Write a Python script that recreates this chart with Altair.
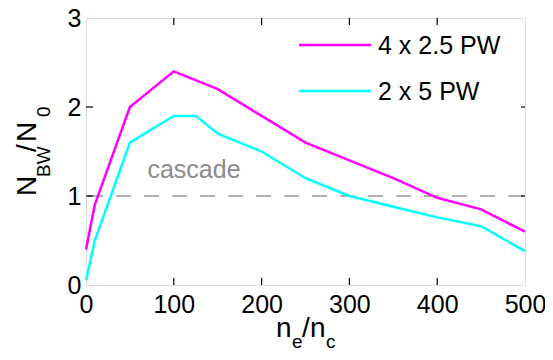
import altair as alt
import pandas as pd

# ---- data ----
series_names = ["4 x 2.5 PW", "2 x 5 PW"]
series_colors = ["#ff00ff", "#00ffff"]

ne_a = [0, 10, 50, 100, 150, 200, 250, 300, 350, 400, 450, 500]
nbw_a = [0.4, 0.9, 2.0, 2.4, 2.2, 1.9, 1.6, 1.4, 1.2, 0.98, 0.85, 0.6]

ne_b = [0, 10, 50, 100, 125, 150, 200, 250, 300, 350, 400, 450, 500]
nbw_b = [0.05, 0.5, 1.6, 1.9, 1.9, 1.7, 1.5, 1.2, 1.0, 0.88, 0.76, 0.66, 0.38]

x_ticks = [0, 100, 200, 300, 400, 500]
y_ticks = [0, 1, 2, 3]
cascade_level = 1.0
cascade_label = "cascade"
cascade_pos = (123, 1.2)

W, H = 439, 267
FONT = "Liberation Sans"

lines_df = pd.DataFrame(
    [{"ne": x, "nbw": y, "series": series_names[0]} for x, y in zip(ne_a, nbw_a)]
    + [{"ne": x, "nbw": y, "series": series_names[1]} for x, y in zip(ne_b, nbw_b)]
)
xt_df = pd.DataFrame({"x": x_ticks[1:-1]})
yt_df = pd.DataFrame({"y": y_ticks[1:-1]})

xs = alt.Scale(domain=[0, 500], nice=False, zero=False)
ys = alt.Scale(domain=[0, 3], nice=False, zero=False)

base_x = alt.X("ne:Q", scale=xs,
               axis=alt.Axis(values=x_ticks, format="d", title=None, ticks=False,
                             domain=False, grid=False, labelFont=FONT, labelFontSize=25,
                             labelColor="black", labelPadding=7, labelFlush=False))
base_y = alt.Y("nbw:Q", scale=ys,
               axis=alt.Axis(values=y_ticks, format="d", title=None, ticks=False,
                             domain=False, grid=False, labelFont=FONT, labelFontSize=25,
                             labelColor="black", labelPadding=5, labelFlush=False))

lines = alt.Chart(lines_df).mark_line(strokeWidth=2.5).encode(
    x=base_x,
    y=base_y,
    color=alt.Color("series:N", scale=alt.Scale(domain=series_names, range=series_colors),
                    legend=None),
    detail="series:N",
)

cascade_rule = alt.Chart(pd.DataFrame({"y": [cascade_level]})).mark_rule(
    color="#999999", strokeWidth=1.5, strokeDash=[15, 13], strokeDashOffset=-2
).encode(y=alt.Y("y:Q", scale=ys))

cascade_text = alt.Chart(pd.DataFrame({"x": [cascade_pos[0]], "y": [cascade_pos[1]],
                                       "t": [cascade_label]})).mark_text(
    font=FONT, fontSize=25, color="#8c8c8c", align="center", baseline="alphabetic"
).encode(x=alt.X("x:Q", scale=xs), y=alt.Y("y:Q", scale=ys), text="t:N")

# inward ticks
tick_col = "black"
xt_bottom = alt.Chart(xt_df).mark_rule(color=tick_col, strokeWidth=1.2).encode(
    x=alt.X("x:Q", scale=xs), y=alt.value(H), y2=alt.value(H - 7))
xt_top = alt.Chart(xt_df).mark_rule(color=tick_col, strokeWidth=1.2).encode(
    x=alt.X("x:Q", scale=xs), y=alt.value(0), y2=alt.value(7))
yt_left = alt.Chart(yt_df).mark_rule(color=tick_col, strokeWidth=1.2).encode(
    y=alt.Y("y:Q", scale=ys), x=alt.value(0), x2=alt.value(7))
yt_right = alt.Chart(yt_df).mark_rule(color=tick_col, strokeWidth=1.2).encode(
    y=alt.Y("y:Q", scale=ys), x=alt.value(W), x2=alt.value(W - 4))

# manual legend
legend_layers = []
leg_rows = [27, 73]
for name, col, ly in zip(series_names, series_colors, leg_rows):
    legend_layers.append(
        alt.Chart(pd.DataFrame({"a": [0]})).mark_rule(color=col, strokeWidth=2.5).encode(
            x=alt.value(213), x2=alt.value(285), y=alt.value(ly))
    )
    legend_layers.append(
        alt.Chart(pd.DataFrame({"t": [name]})).mark_text(
            font=FONT, fontSize=25, color="black", align="left", baseline="middle", dy=1
        ).encode(x=alt.value(292), y=alt.value(ly), text="t:N")
    )

# axis titles with subscripts
def txt(s, x, y, size, angle=0):
    return alt.Chart(pd.DataFrame({"t": [s]})).mark_text(
        font=FONT, fontSize=size, color="black", align="left", baseline="alphabetic",
        angle=angle
    ).encode(x=alt.value(x), y=alt.value(y), text="t:N")

xtitle = [
    txt("n", 190, 319, 28),
    txt("e", 206, 330, 19),
    txt("/", 216, 319, 28),
    txt("n", 224, 319, 28),
    txt("c", 240, 330, 19),
]
ytitle = [
    txt("N", -50, 178, 28, 270),
    txt("BW", -36, 159, 19, 270),
    txt("/", -50, 134, 28, 270),
    txt("N", -50, 124, 28, 270),
    txt("0", -36, 99, 19, 270),
]

chart = alt.layer(
    cascade_rule, cascade_text, lines, xt_bottom, xt_top, yt_left, yt_right,
    *legend_layers, *xtitle, *ytitle
).properties(
    width=W, height=H,
    autosize=alt.AutoSizeParams(type="none"),
    padding={"left": 78, "top": 10, "right": 20, "bottom": 66},
).configure_view(
    stroke="black", strokeWidth=1.5
).configure(background="white")

chart.save("out.html", embed_options={"renderer": "svg", "actions": False})
